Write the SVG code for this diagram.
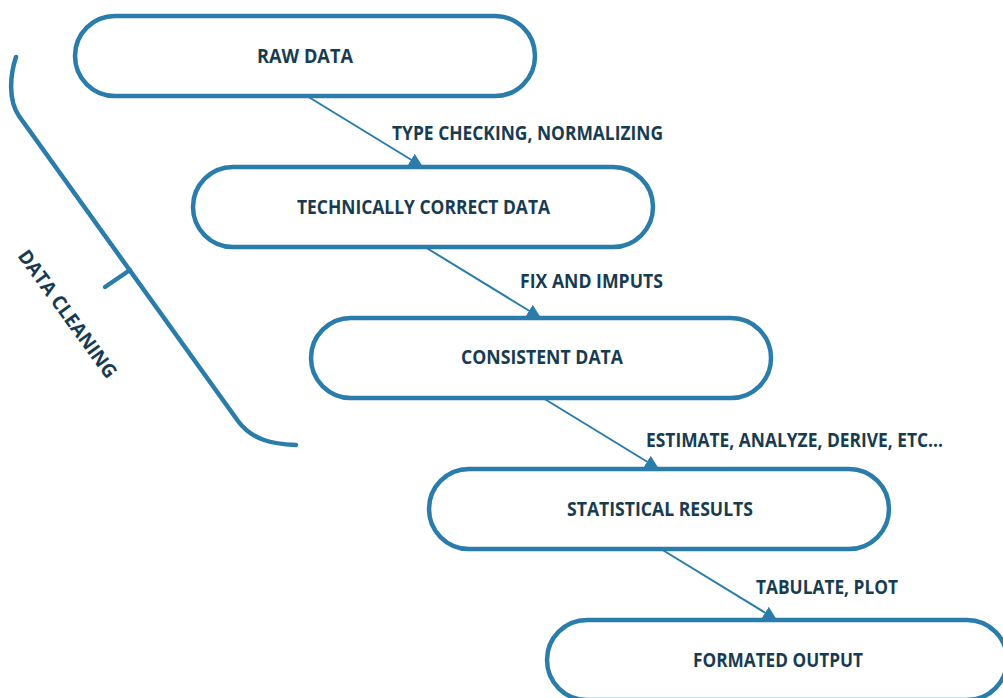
<svg xmlns="http://www.w3.org/2000/svg" width="1003" height="698" viewBox="0 0 1003 698">
  <style>
    .node rect { fill: #ffffff; stroke: #2a7cab; stroke-width: 4.5; }
    .label { font-family: "Open Sans", "Liberation Sans", sans-serif; font-weight: 700; font-size: 19.5px; fill: #173c52; }
    .edge { stroke: #2a7cab; stroke-width: 2; fill: none; }
    .brace { stroke: #2a7cab; stroke-width: 4.5; fill: none; stroke-linecap: round; stroke-linejoin: round; }
  </style>
  <defs>
    <marker id="arrow" markerUnits="userSpaceOnUse" markerWidth="16" markerHeight="16" refX="14" refY="7" orient="auto">
      <path d="M0,0 L14,7 L0,14 Z" fill="#2a7cab"/>
    </marker>
  </defs>
  <rect width="1003" height="698" fill="#ffffff"/>

  <!-- bracket marking the cleaning stages -->
  <g id="data-cleaning">
    <path class="brace" d="M16,57 C10,75 8,100 19,116 L238,421 C252,440 272,444 296,445"/>
    <path class="brace" stroke-linecap="butt" d="M130,270 L105,287"/>
    <text class="label" transform="translate(17,256) rotate(54)" x="0" y="0" textLength="153" lengthAdjust="spacingAndGlyphs">DATA CLEANING</text>
  </g>

  <!-- connectors between stages -->
  <g id="connectors">
    <line class="edge" x1="307" y1="96" x2="423" y2="167" marker-end="url(#arrow)"/>
    <line class="edge" x1="425" y1="247" x2="541" y2="318" marker-end="url(#arrow)"/>
    <line class="edge" x1="543" y1="398" x2="659" y2="469" marker-end="url(#arrow)"/>
    <line class="edge" x1="661" y1="549" x2="777" y2="620" marker-end="url(#arrow)"/>
    <text class="label" x="392" y="140" textLength="271" lengthAdjust="spacingAndGlyphs">TYPE CHECKING, NORMALIZING</text>
    <text class="label" x="520" y="288" textLength="143" lengthAdjust="spacingAndGlyphs">FIX AND IMPUTS</text>
    <text class="label" x="646" y="447" textLength="297" lengthAdjust="spacingAndGlyphs">ESTIMATE, ANALYZE, DERIVE, ETC...</text>
    <text class="label" x="756" y="594" textLength="142" lengthAdjust="spacingAndGlyphs">TABULATE, PLOT</text>
  </g>

  <g id="raw-data" class="node">
    <rect x="75" y="16" width="460" height="80" rx="40"/>
    <text class="label" x="305" y="63" text-anchor="middle" textLength="96" lengthAdjust="spacingAndGlyphs">RAW DATA</text>
  </g>
  <g id="technically-correct-data" class="node">
    <rect x="193" y="167" width="460" height="80" rx="40"/>
    <text class="label" x="423.5" y="213.5" text-anchor="middle" textLength="253" lengthAdjust="spacingAndGlyphs">TECHNICALLY CORRECT DATA</text>
  </g>
  <g id="consistent-data" class="node">
    <rect x="311" y="318" width="460" height="80" rx="40"/>
    <text class="label" x="542" y="364" text-anchor="middle" textLength="162" lengthAdjust="spacingAndGlyphs">CONSISTENT DATA</text>
  </g>
  <g id="statistical-results" class="node">
    <rect x="429" y="469" width="460" height="80" rx="40"/>
    <text class="label" x="660" y="516" text-anchor="middle" textLength="186" lengthAdjust="spacingAndGlyphs">STATISTICAL RESULTS</text>
  </g>
  <g id="formated-output" class="node">
    <rect x="547" y="620" width="460" height="80" rx="40"/>
    <text class="label" x="778" y="667" text-anchor="middle" textLength="170" lengthAdjust="spacingAndGlyphs">FORMATED OUTPUT</text>
  </g>
</svg>
